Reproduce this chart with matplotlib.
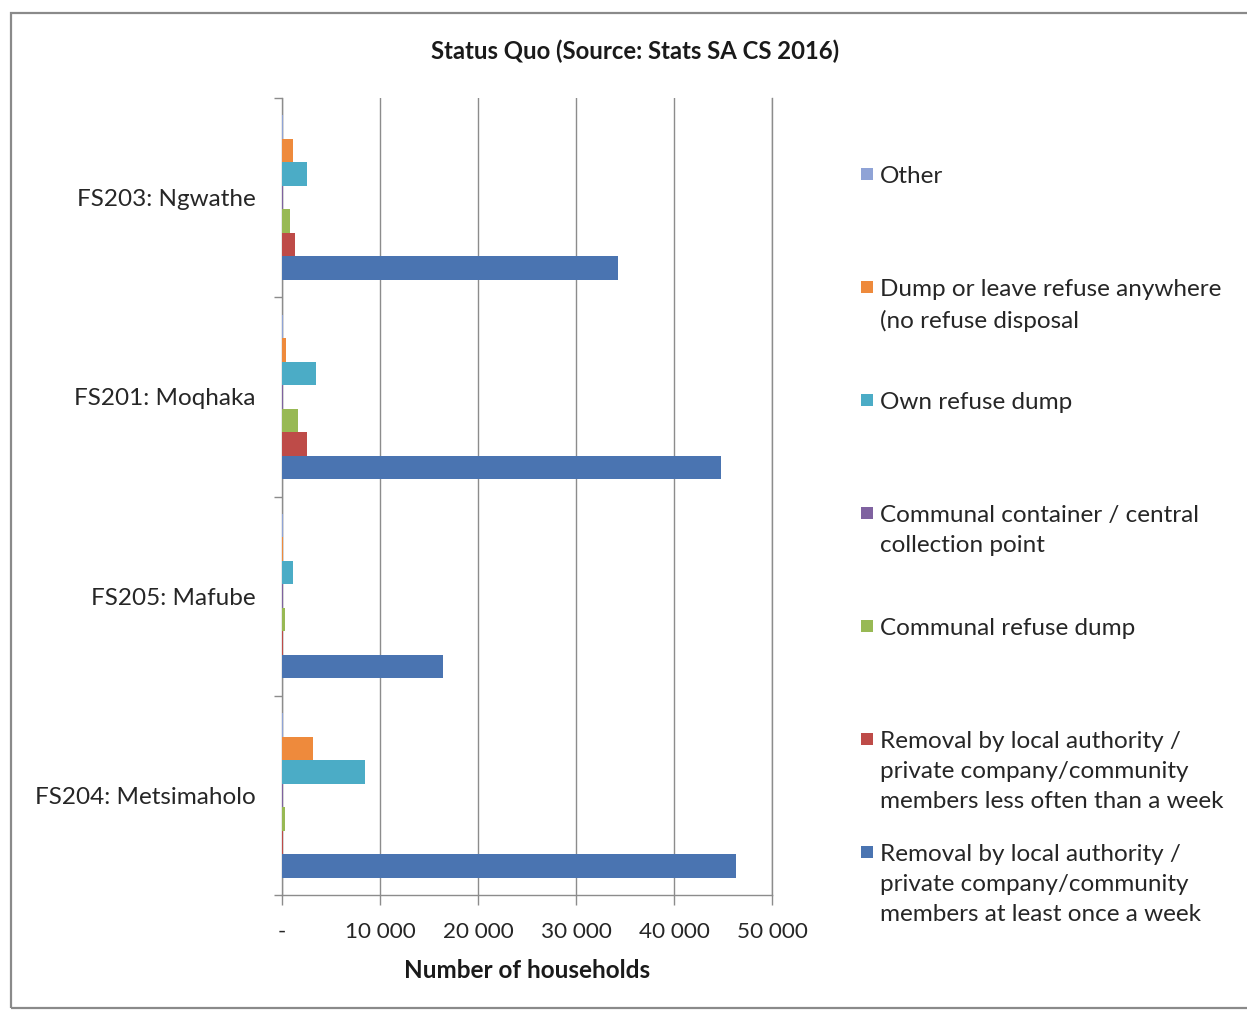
import matplotlib
matplotlib.use("Agg")
import matplotlib.pyplot as plt
from matplotlib.patches import Rectangle
import numpy as np

plt.rcParams['font.family'] = ['Lato', 'DejaVu Sans']

# Municipalities, listed top to bottom
municipalities = ["FS203: Ngwathe", "FS201: Moqhaka", "FS205: Mafube", "FS204: Metsimaholo"]

# Household counts per refuse-removal type (same order as municipalities)
weekly_removal = [34300, 44800, 16400, 46300]
less_often_removal = [1350, 2500, 60, 150]
communal_dump = [800, 1600, 350, 350]
communal_container = [100, 120, 60, 80]
own_dump = [2600, 3500, 1100, 8500]
dump_anywhere = [1150, 400, 80, 3200]
other = [100, 100, 150, 150]

# Series from the bottom bar of each group to the top bar
series_values = [weekly_removal, less_often_removal, communal_dump,
                 communal_container, own_dump, dump_anywhere, other]
series_labels = [
    "Removal by local authority /\nprivate company/community\nmembers at least once a week",
    "Removal by local authority /\nprivate company/community\nmembers less often than a week",
    "Communal refuse dump",
    "Communal container / central\ncollection point",
    "Own refuse dump",
    "Dump or leave refuse anywhere\n(no refuse disposal",
    "Other",
]
series_colors = ["#4A74B1", "#BE4B48", "#98B954", "#7F62A0", "#4BACC6", "#EE8A3C", "#8FA3D6"]

x_ticks = [0, 10000, 20000, 30000, 40000, 50000]
x_tick_labels = ["-", "10 000", "20 000", "30 000", "40 000", "50 000"]

W, H = 1247, 1011
fig = plt.figure(figsize=(W / 100, H / 100), dpi=100)

# outer chart border
fig.patches.append(Rectangle((11 / W, 1 - 1008 / H), (W + 10 - 11) / W, (1008 - 13) / H,
                             transform=fig.transFigure, fill=False,
                             edgecolor="#8A8A8A", linewidth=1.6))

ax = fig.add_axes([282 / W, 1 - 895 / H, (772 - 282) / W, (895 - 98) / H])

n_cat = len(municipalities)
cat_pos = np.arange(n_cat)[::-1].astype(float)  # first municipality at top
bar_h = 0.118
n_series = len(series_values)
for k, (vals, col) in enumerate(zip(series_values, series_colors)):
    offs = (k - (n_series - 1) / 2) * bar_h
    ax.barh(cat_pos + offs, vals, height=bar_h, color=col, linewidth=0, zorder=3)

ax.set_xlim(0, 50000)
ax.set_ylim(-0.5, n_cat - 0.5)

# vertical gridlines
ax.set_xticks(x_ticks)
ax.set_xticklabels(x_tick_labels)
ax.xaxis.grid(True, color="#8C8C8C", linewidth=1.0, zorder=0)
ax.set_axisbelow(True)

# category boundaries get tick marks, centres get the labels
ax.set_yticks(np.arange(-0.5, n_cat, 1.0))
ax.set_yticklabels([])
ax.set_yticks(cat_pos, minor=True)
ax.set_yticklabels(municipalities, minor=True)
ax.tick_params(axis="y", which="major", length=6, width=1, color="#8C8C8C", direction="out")
ax.tick_params(axis="y", which="minor", length=0, pad=19, labelsize=17.5, labelcolor="#262626")
ax.tick_params(axis="x", length=7, width=1, color="#8C8C8C", pad=12.5,
               labelsize=16.2, labelcolor="#262626")

ax.spines["top"].set_visible(False)
for side in ["left", "bottom", "right"]:
    ax.spines[side].set_color("#8C8C8C")
    ax.spines[side].set_linewidth(1.0)

ax.set_xlabel("Number of households", fontsize=17.5, fontweight="bold",
              color="#1A1A1A", labelpad=12.5)

fig.text(635 / W, 1 - 51 / H, "Status Quo (Source: Stats SA CS 2016)",
         ha="center", va="center", fontsize=17.2, fontweight="bold", color="#1A1A1A")

# legend: entries listed top to bottom, reverse of stacking order
leg_top = 174
leg_step = 113
for i, (lab, col) in enumerate(zip(series_labels[::-1], series_colors[::-1])):
    y = leg_top + i * leg_step
    fig.patches.append(Rectangle((861 / W, 1 - (y + 6) / H), 12 / W, 12 / H,
                                 transform=fig.transFigure, facecolor=col, edgecolor="none"))
    fig.text(880 / W, 1 - (y - 8) / H, lab, ha="left", va="top",
             fontsize=17.5, color="#262626", linespacing=1.52)

fig.savefig("out.png", dpi=100, facecolor="white")
